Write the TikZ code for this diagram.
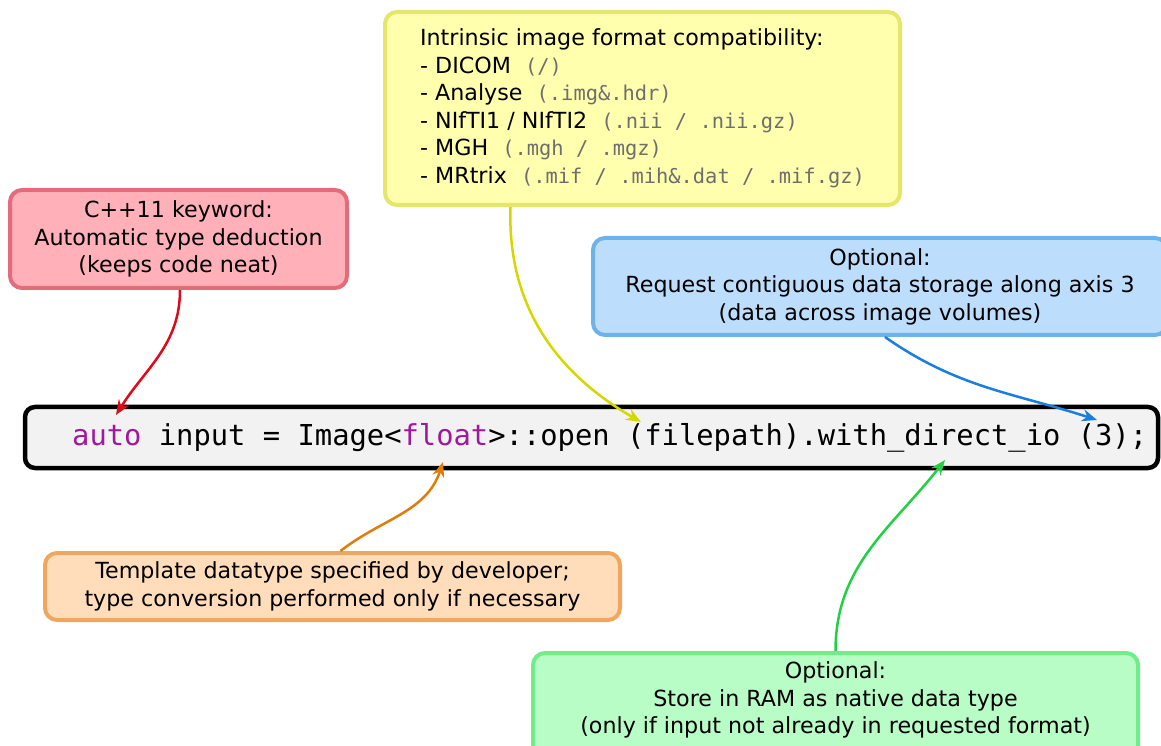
\documentclass[tikz,border=0pt]{standalone}
\usepackage{fontspec}
\setmainfont{DejaVu Sans}
\setmonofont{DejaVu Sans Mono}
\usetikzlibrary{arrows.meta}

\definecolor{redfill}{HTML}{FFB0B8}
\definecolor{redline}{HTML}{E46C7A}
\definecolor{redarrow}{HTML}{DD0A1A}
\definecolor{yellowfill}{HTML}{FFFFAE}
\definecolor{yellowline}{HTML}{E6E66A}
\definecolor{yellowarrow}{HTML}{D6D600}
\definecolor{bluefill}{HTML}{BCDEFC}
\definecolor{blueline}{HTML}{6EB2EA}
\definecolor{bluearrow}{HTML}{1A7EDC}
\definecolor{orangefill}{HTML}{FFDDBA}
\definecolor{orangeline}{HTML}{EFA65E}
\definecolor{orangearrow}{HTML}{E07C0C}
\definecolor{greenfill}{HTML}{B8FCC6}
\definecolor{greenline}{HTML}{72EC8A}
\definecolor{greenarrow}{HTML}{22D044}
\definecolor{codefill}{HTML}{F2F2F2}
\definecolor{keyword}{HTML}{A0189C}
\definecolor{extgray}{HTML}{6E6E6E}

\newcommand{\ext}[1]{{\ttfamily\fontsize{20.4}{27.5}\selectfont\spaceskip=0.602em\relax\color{extgray}#1}}

\begin{document}
\begin{tikzpicture}[
  x=1pt, y=1pt,
  note/.style={draw, rounded corners=12pt, line width=4pt, align=center,
    inner sep=0pt, font=\fontsize{22.2}{27.5}\selectfont},
  pointer/.style={-{Stealth[length=15pt,width=12pt]}, line width=2.5pt},
]
  \clip (0,0) rectangle (1161,745);

  % code line
  \node[draw, line width=4.5pt, rounded corners=10pt, fill=codefill,
    minimum width=1133pt, minimum height=61pt] (code) at (591.5, 307.5) {};
  \node[anchor=west, inner sep=0pt, font=\ttfamily\fontsize{28.8}{30}\selectfont]
    (codetext) at (72, 307.5)
    {\vphantom{(}\textcolor{keyword}{auto} input = Image<\textcolor{keyword}{float}>::open (filepath).with\_direct\_io (3);};

  % annotations
  \node[note, fill=redfill, draw=redline, minimum width=337pt, minimum height=98pt]
    (keywordnote) at (178.5, 506)
    {C++11 keyword:\\Automatic type deduction\\(keeps code neat)};
  \node[note, fill=yellowfill, draw=yellowline, minimum width=515pt, minimum height=193pt,
    align=left]
    (formats) at (642.5, 636.5)
    {Intrinsic image format compatibility:\\
     - DICOM \ \ext{(/)}\\
     - Analyse \ \ext{(.img\&.hdr)}\\
     - NIfTI1 / NIfTI2 \ \ext{(.nii / .nii.gz)}\\
     - MGH \ \ext{(.mgh / .mgz)}\\
     - MRtrix \ \ext{(.mif / .mih\&.dat / .mif.gz)}};
  \node[note, fill=bluefill, draw=blueline, minimum width=574pt, minimum height=97pt]
    (contiguous) at (880, 458.5)
    {Optional:\\Request contiguous data storage along axis 3\\(data across image volumes)};
  \node[note, fill=orangefill, draw=orangeline, minimum width=575pt, minimum height=67pt]
    (template) at (332.5, 158.5)
    {Template datatype specified by developer;\\type conversion performed only if necessary};
  \node[note, fill=greenfill, draw=greenline, minimum width=605pt, minimum height=120pt]
    (native) at (835.5, 32) {};
  \node[note, draw=none] (nativetext) at (835.5, 45)
    {Optional:\\Store in RAM as native data type\\(only if input not already in requested format)};

  % arrow ends on the code line
  \coordinate (autotip) at (116, 330);
  \coordinate (pathtip) at (641, 323);
  \coordinate (axistip) at (1097, 325);
  \coordinate (floattip) at (443, 283);
  \coordinate (iotip) at (945, 285);

  \draw[pointer, redarrow] ([xshift=1.5pt]keywordnote.south) to[out=-90, in=58] (autotip);
  \draw[pointer, yellowarrow] ([xshift=-132pt]formats.south) to[out=-92, in=150] (pathtip);
  \draw[pointer, bluearrow] ([xshift=5pt]contiguous.south) to[out=-35, in=162] (axistip);
  \draw[pointer, orangearrow] ([xshift=8pt]template.north) to[out=38, in=-108] (floattip);
  \draw[pointer, greenarrow] (native.north) to[out=90, in=-128] (iotip);
\end{tikzpicture}
\end{document}
